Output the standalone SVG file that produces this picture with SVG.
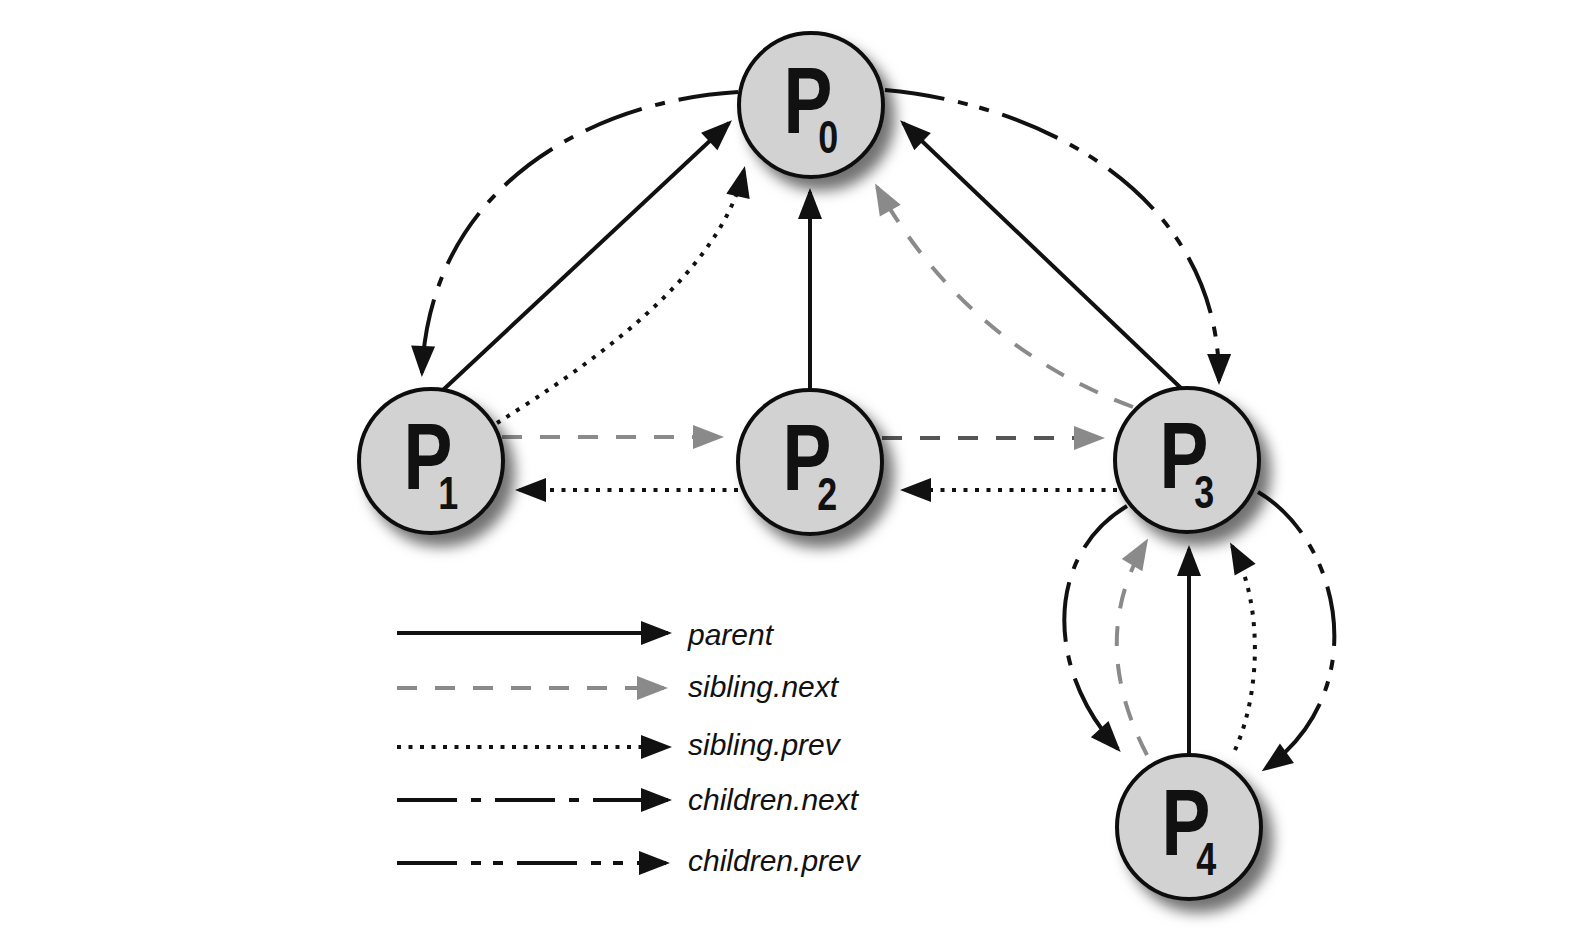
<svg xmlns="http://www.w3.org/2000/svg" width="1580" height="948" viewBox="0 0 1580 948">
<style>
  .ln{fill:none;stroke-width:4}
  .par{stroke:#111}
  .sn{stroke:#8a8a8a;stroke-dasharray:20 18}
  .sp{stroke:#111;stroke-dasharray:4 7.5}
  .cn{stroke:#111;stroke-dasharray:60 14 10 14}
  .cp{stroke:#111;stroke-dasharray:60 14 10 12 10 14}
  .node circle{fill:#d2d2d2;stroke:#111;stroke-width:4}
  .big{font-family:"Liberation Sans",Arial,sans-serif;font-weight:bold;font-size:94px;fill:#111;text-anchor:middle}
  .sub{font-size:46px}
  .leg{font-family:"Liberation Sans",Arial,sans-serif;font-style:italic;font-size:30px;fill:#111}
</style>
<defs>
  <marker id="ab" markerUnits="userSpaceOnUse" markerWidth="32" markerHeight="26" refX="27" refY="12" orient="auto" overflow="visible">
    <path d="M0,0 L31,12 L0,24 z" fill="#111"/>
  </marker>
  <marker id="ag" markerUnits="userSpaceOnUse" markerWidth="32" markerHeight="26" refX="27" refY="12" orient="auto" overflow="visible">
    <path d="M0,0 L31,12 L0,24 z" fill="#8a8a8a"/>
  </marker>
  <filter id="sh" x="-30%" y="-30%" width="170%" height="170%">
    <feGaussianBlur in="SourceAlpha" stdDeviation="7"/>
    <feOffset dx="10" dy="12" result="b"/>
    <feFlood flood-color="#000" flood-opacity="0.55"/>
    <feComposite in2="b" operator="in"/>
    <feMerge><feMergeNode/><feMergeNode in="SourceGraphic"/></feMerge>
  </filter>
</defs>
<rect width="1580" height="948" fill="#fff"/>

<g id="connectors">
  <!-- parent -->
  <path class="ln par" d="M443,390 L729,123" marker-end="url(#ab)"/>
  <path class="ln par" d="M810,390 L810,192" marker-end="url(#ab)"/>
  <path class="ln par" d="M1183,390 L903,123" marker-end="url(#ab)"/>
  <path class="ln par" d="M1189,755 L1189,549" marker-end="url(#ab)"/>
  <!-- children.next / children.prev -->
  <path class="ln cn" d="M738,92 C600,100 430,180 422,373" marker-end="url(#ab)"/>
  <path class="ln cp" d="M885,90 C1050,105 1220,200 1219,381" marker-end="url(#ab)"/>
  <path class="ln cn" d="M1127,506 C1045,555 1045,670 1118,749" marker-end="url(#ab)"/>
  <path class="ln cp" d="M1258,492 C1340,540 1375,690 1265,769" marker-end="url(#ab)"/>
  <!-- sibling.next -->
  <path class="ln sn" d="M502,437 L720,437" marker-end="url(#ag)"/>
  <path class="ln sn" d="M882,438 L1101,438" style="stroke:#555" marker-end="url(#ag)"/>
  <path class="ln sn" d="M1133,407 Q966,345 877,187" marker-end="url(#ag)"/>
  <path class="ln sn" d="M1147,755 Q1087,640 1146,542" marker-end="url(#ag)"/>
  <!-- sibling.prev -->
  <path class="ln sp" d="M497,423 C590,365 720,275 744,170" marker-end="url(#ab)"/>
  <path class="ln sp" d="M738,490 L519,490" marker-end="url(#ab)"/>
  <path class="ln sp" d="M1117,490 L904,490" marker-end="url(#ab)"/>
  <path class="ln sp" d="M1235,750 C1262,690 1262,600 1232,546" marker-end="url(#ab)"/>
</g>

<g id="P0" class="node">
  <circle cx="811" cy="105" r="72" filter="url(#sh)"/>
  <text class="big" transform="translate(811,105) scale(0.78,1)" x="-4" y="28">P<tspan class="sub" x="22" y="48">0</tspan></text>
</g>
<g id="P1" class="node">
  <circle cx="431" cy="461" r="72" filter="url(#sh)"/>
  <text class="big" transform="translate(431,461) scale(0.78,1)" x="-4" y="28">P<tspan class="sub" x="22" y="48">1</tspan></text>
</g>
<g id="P2" class="node">
  <circle cx="810" cy="462" r="72" filter="url(#sh)"/>
  <text class="big" transform="translate(810,462) scale(0.78,1)" x="-4" y="28">P<tspan class="sub" x="22" y="48">2</tspan></text>
</g>
<g id="P3" class="node">
  <circle cx="1187" cy="460" r="72" filter="url(#sh)"/>
  <text class="big" transform="translate(1187,460) scale(0.78,1)" x="-4" y="28">P<tspan class="sub" x="22" y="48">3</tspan></text>
</g>
<g id="P4" class="node">
  <circle cx="1189" cy="827" r="72" filter="url(#sh)"/>
  <text class="big" transform="translate(1189,827) scale(0.78,1)" x="-4" y="28">P<tspan class="sub" x="22" y="48">4</tspan></text>
</g>

<g id="legend">
  <path class="ln par" d="M397,633 L668,633" marker-end="url(#ab)"/>
  <path class="ln sn" d="M397,688 L664,688" marker-end="url(#ag)"/>
  <path class="ln sp" d="M397,747 L668,747" marker-end="url(#ab)"/>
  <path class="ln cn" d="M397,800 L668,800" marker-end="url(#ab)"/>
  <path class="ln cp" d="M397,863 L666,863" marker-end="url(#ab)"/>
  <text class="leg" x="688" y="645">parent</text>
  <text class="leg" x="688" y="697">sibling.next</text>
  <text class="leg" x="688" y="755">sibling.prev</text>
  <text class="leg" x="688" y="810">children.next</text>
  <text class="leg" x="688" y="871">children.prev</text>
</g>
</svg>
